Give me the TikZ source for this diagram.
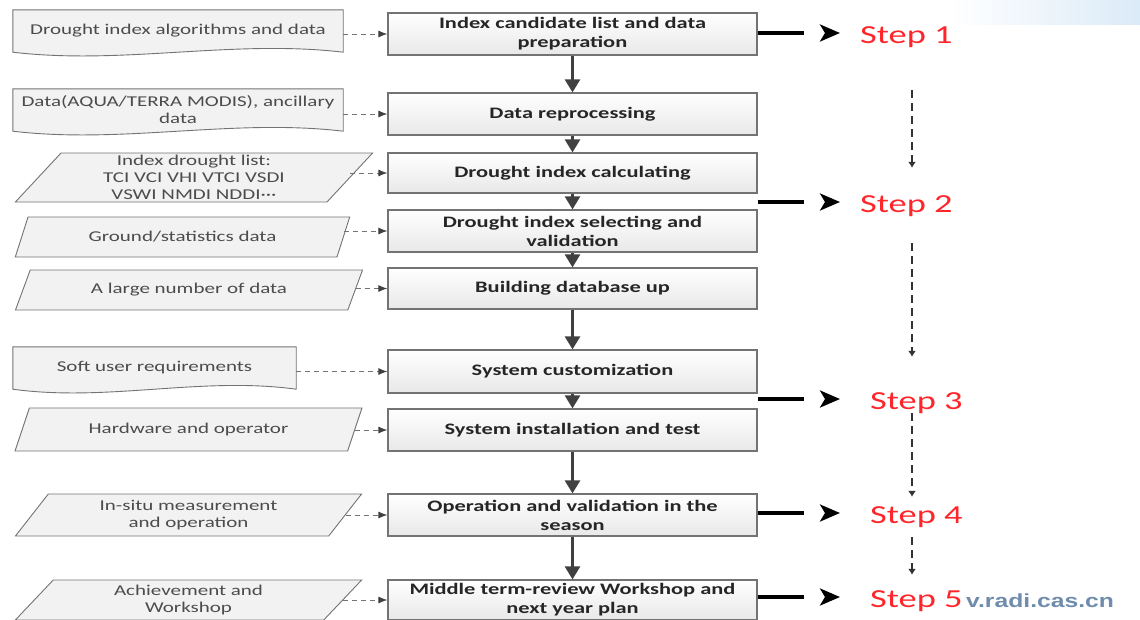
\documentclass[tikz,border=0pt]{standalone}
\usepackage{fontspec}
\setmainfont{Carlito}[FakeStretch=1.4]
\newfontfamily\markfont{Liberation Sans}[FakeStretch=1.3]
\usetikzlibrary{arrows.meta,calc,shapes.geometric,backgrounds}
\definecolor{BoxClr}{rgb}{0.45,0.45,0.45}
\definecolor{InClr}{rgb}{0.95,0.95,0.95}
\definecolor{TxtClr}{rgb}{0.15,0.15,0.15}
\definecolor{InTxtClr}{rgb}{0.3,0.3,0.3}
\definecolor{FlowClr}{rgb}{0.25,0.25,0.25}
\definecolor{StepClr}{rgb}{1,0.15,0.17}
\definecolor{MarkClr}{rgb}{0.44,0.55,0.68}
\definecolor{SkyClr}{rgb}{0.86,0.92,0.97}

\begin{document}
\begin{tikzpicture}[x=1pt,y=-1pt,
  stage/.style={draw=BoxClr,line width=1.2pt,top color=white,bottom color=black!9,
    minimum width=369pt,minimum height=42pt,inner sep=0pt,align=center,
    text=TxtClr,font=\fontsize{16}{19}\selectfont\bfseries},
  datain/.style={inner sep=0pt,align=center,text=InTxtClr,font=\fontsize{15}{17}\selectfont},
  slant/.style={datain,draw=BoxClr,line width=0.9pt,fill=InClr,trapezium,
    trapezium left angle=55,trapezium right angle=125,trapezium stretches=true,
    minimum height=40pt},
  docshape/.style={draw=BoxClr,line width=0.9pt,fill=InClr},
  feed/.style={draw=BoxClr,line width=1pt,dash pattern=on 5pt off 4pt,
    -{Latex[length=9pt,width=7pt,color=FlowClr]}},
  flow/.style={draw=FlowClr,line width=2.6pt,-{Triangle[length=13pt,width=15pt]}},
  stepname/.style={anchor=west,inner sep=0pt,text height=20pt,text depth=0pt,
    text=StepClr,font=\fontsize{26}{30}\selectfont},
  steplink/.style={line width=3.2pt,dash pattern=on 46pt off 300pt,
    -{Stealth[length=20pt,width=17pt,inset=5pt]},shorten >=#1},
  stepflow/.style={draw=FlowClr!80!black,line width=1.8pt,dash pattern=on 8pt off 5pt,
    -{Latex[length=6pt,width=8pt]}}]
\useasboundingbox (0,0) rectangle (1140,619);

% process column
\node[stage] (boxA) at (572.5,34) {Index candidate list and data\\preparation};
\node[stage] (boxB) at (572.5,114) {Data reprocessing};
\node[stage,minimum height=40pt] (boxC) at (572.5,173) {Drought index calculating};
\node[stage] (boxD) at (572.5,231) {Drought index selecting and\\validation};
\node[stage,minimum height=41pt] (boxE) at (572.5,288.5) {Building database up};
\node[stage,minimum height=43pt] (boxF) at (572.5,371.5) {System customization};
\node[stage] (boxG) at (572.5,430) {System installation and test};
\node[stage] (boxH) at (572.5,515) {Operation and validation in the\\season};
\node[stage,minimum height=40pt] (boxI) at (572.5,600) {Middle term-review Workshop and\\next year plan};

% inputs
\node[datain,minimum width=330pt,minimum height=42pt] (docA) at (178,31) {Drought index algorithms and data};
\node[datain,minimum width=330pt,minimum height=42pt] (docB) at (178,110) {Data(AQUA/TERRA MODIS), ancillary\\data};
\node[slant,minimum width=358pt,minimum height=49pt] (parC) at (194,177.5) {Index drought list:\\TCI VCI VHI VTCI VSDI\\VSWI NMDI NDDI\textperiodcentered\textperiodcentered\textperiodcentered};
\node[slant,minimum width=335pt] (parD) at (182.5,237) {Ground/statistics data};
\node[slant,minimum width=348pt] (parE) at (189,290) {A large number of data};
\node[datain,minimum width=283pt,minimum height=42pt] (docF) at (154.5,368) {Soft user requirements};
\node[slant,minimum width=347pt,minimum height=43pt] (parG) at (188.5,429.5) {Hardware and operator};
\node[slant,minimum width=347pt,minimum height=42pt] (parH) at (188.5,515) {In-situ measurement\\and operation};
\node[slant,minimum width=347pt] (parI) at (188.5,600) {Achievement and\\Workshop};

\begin{scope}[on background layer]
\shade[left color=white,right color=SkyClr] (950,0) rectangle (1140,24);
\foreach \d/\c in {docA/110,docB/110,docF/95}
  \filldraw[docshape] (\d.north west) -- (\d.north east) -- (\d.south east)
    .. controls +(-\c,-13) and +(\c,13) .. (\d.south west) -- cycle;
\end{scope}

% steps
\node[stepname] (stepA) at (860,33) {Step 1};
\node[stepname] (stepB) at (860,202) {Step 2};
\node[stepname] (stepC) at (870,399) {Step 3};
\node[stepname] (stepD) at (870,513) {Step 4};
\node[stepname] (stepE) at (870,597) {Step 5};
\node[anchor=base west,inner sep=0pt,text=MarkClr,font=\markfont\fontsize{19}{22}\selectfont\bfseries] (mark) at (966,607) {v.radi.cas.cn};
\coordinate (flowx) at (912,0);

\foreach \a/\b in {A/B,B/C,C/D,D/E,E/F,F/G,G/H,H/I}
  \draw[flow] (box\a) -- (box\b);

\foreach \n/\b in {docA/boxA,docB/boxB,parC/boxC,parD/boxD,parE/boxE,docF/boxF,parG/boxG,parH/boxH,parI/boxI}
  \draw[feed] (\b.west -| \n.east) -- (\b.west);

\foreach \b/\s/\g in {boxA/stepA/20,boxC/stepB/20,boxF/stepC/30,boxH/stepD/30,boxI/stepE/30}
  \draw[steplink=\g pt] (\b.east |- \s) -- (\s.west);

\draw[stepflow,shorten <=47pt,shorten >=24pt] (stepA.south -| flowx) -- (stepB.north -| flowx);
\draw[stepflow,shorten <=31pt,shorten >=32pt] (stepB.south -| flowx) -- (stepC.north -| flowx);
\draw[stepflow,shorten <=4pt,shorten >=6pt] (stepC.south -| flowx) -- (stepD.north -| flowx);
\draw[stepflow,shorten <=14pt,shorten >=12pt] (stepD.south -| flowx) -- (stepE.north -| flowx);

\end{tikzpicture}
\end{document}
